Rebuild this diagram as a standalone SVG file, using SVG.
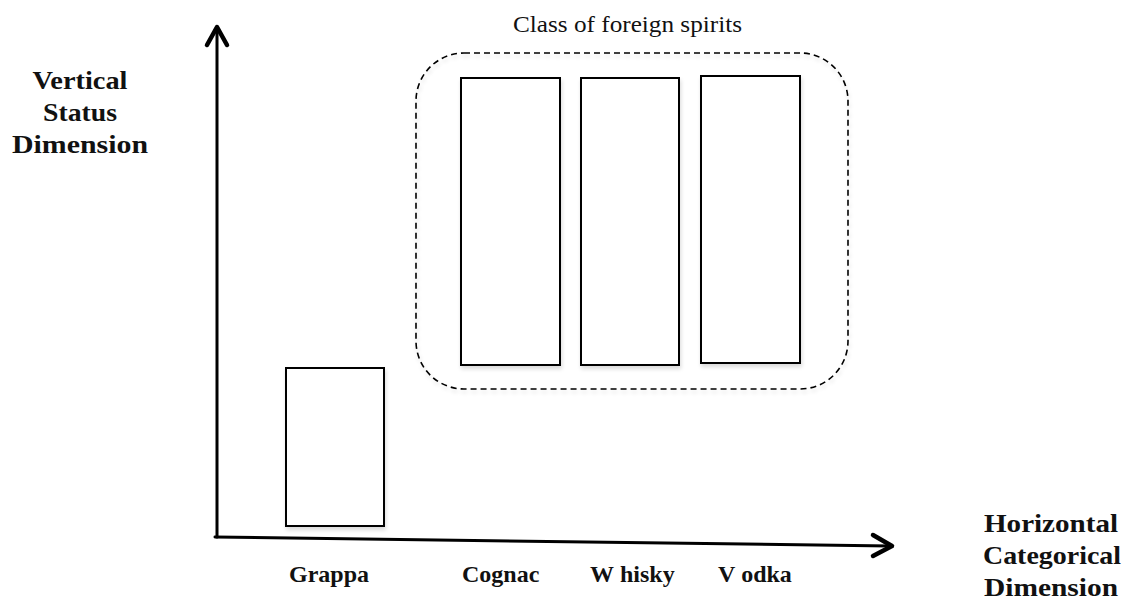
<svg xmlns="http://www.w3.org/2000/svg" width="1128" height="606" viewBox="0 0 1128 606">
<style>
.box{fill:#fff;stroke:#000;stroke-width:2;filter:url(#sh)}
.grp{fill:none;stroke:#000;stroke-width:1.6;stroke-dasharray:6 4;filter:url(#sh)}
.axis{fill:none;stroke:#000;stroke-width:3;stroke-linecap:round;stroke-linejoin:round}
.head{fill:none;stroke:#000;stroke-width:4.5;stroke-linecap:round;stroke-linejoin:round}
.lbl{font-family:"Liberation Serif",serif;font-weight:bold;font-size:24px;fill:#111}
.ax{font-family:"Liberation Serif",serif;font-weight:bold;font-size:25px;fill:#111;text-anchor:middle}
.cls{font-family:"Liberation Serif",serif;font-size:24px;fill:#111}
</style>
<defs>
<filter id="sh" x="-10%" y="-10%" width="130%" height="130%">
<feGaussianBlur in="SourceAlpha" stdDeviation="2"/>
<feOffset dx="1" dy="3" result="b"/>
<feComponentTransfer><feFuncA type="linear" slope="0.15"/></feComponentTransfer>
<feMerge><feMergeNode/><feMergeNode in="SourceGraphic"/></feMerge>
</filter>
</defs>
<rect width="1128" height="606" fill="#fff"/>
<g id="connectors">
<line class="axis" x1="217" y1="537" x2="217" y2="28"/>
<polyline class="head" points="207,45 217,27 227,45"/>
<line class="axis" x1="215" y1="537" x2="890" y2="546"/>
<polyline class="head" points="873,535 892,546 873,556"/>
</g>
<g id="foreign-class">
<rect class="grp" x="416" y="53" width="432" height="336" rx="48" ry="48"/>
<text class="cls" x="513" y="32" textLength="229" lengthAdjust="spacingAndGlyphs">Class of foreign spirits</text>
</g>
<g id="grappa">
<rect class="box" x="286" y="368" width="98" height="158"/>
<text class="lbl" x="289" y="582">Grappa</text>
</g>
<g id="cognac">
<rect class="box" x="461" y="78" width="99" height="287"/>
<text class="lbl" x="462" y="582">Cognac</text>
</g>
<g id="whisky">
<rect class="box" x="581" y="78" width="98" height="287"/>
<text class="lbl" x="590" y="582">W<tspan dx="6">hisky</tspan></text>
</g>
<g id="vodka">
<rect class="box" x="701" y="76" width="99" height="287"/>
<text class="lbl" x="718" y="582">V<tspan dx="8">odka</tspan></text>
</g>
<g id="y-axis-label">
<text class="ax" x="80" y="89" textLength="95" lengthAdjust="spacingAndGlyphs">Vertical</text>
<text class="ax" x="80" y="121" textLength="74" lengthAdjust="spacingAndGlyphs">Status</text>
<text class="ax" x="80" y="153" textLength="136" lengthAdjust="spacingAndGlyphs">Dimension</text>
</g>
<g id="x-axis-label">
<text class="ax" x="1051" y="532" textLength="134" lengthAdjust="spacingAndGlyphs">Horizontal</text>
<text class="ax" x="1052" y="564" textLength="138" lengthAdjust="spacingAndGlyphs">Categorical</text>
<text class="ax" x="1051" y="596" textLength="134" lengthAdjust="spacingAndGlyphs">Dimension</text>
</g>
</svg>
